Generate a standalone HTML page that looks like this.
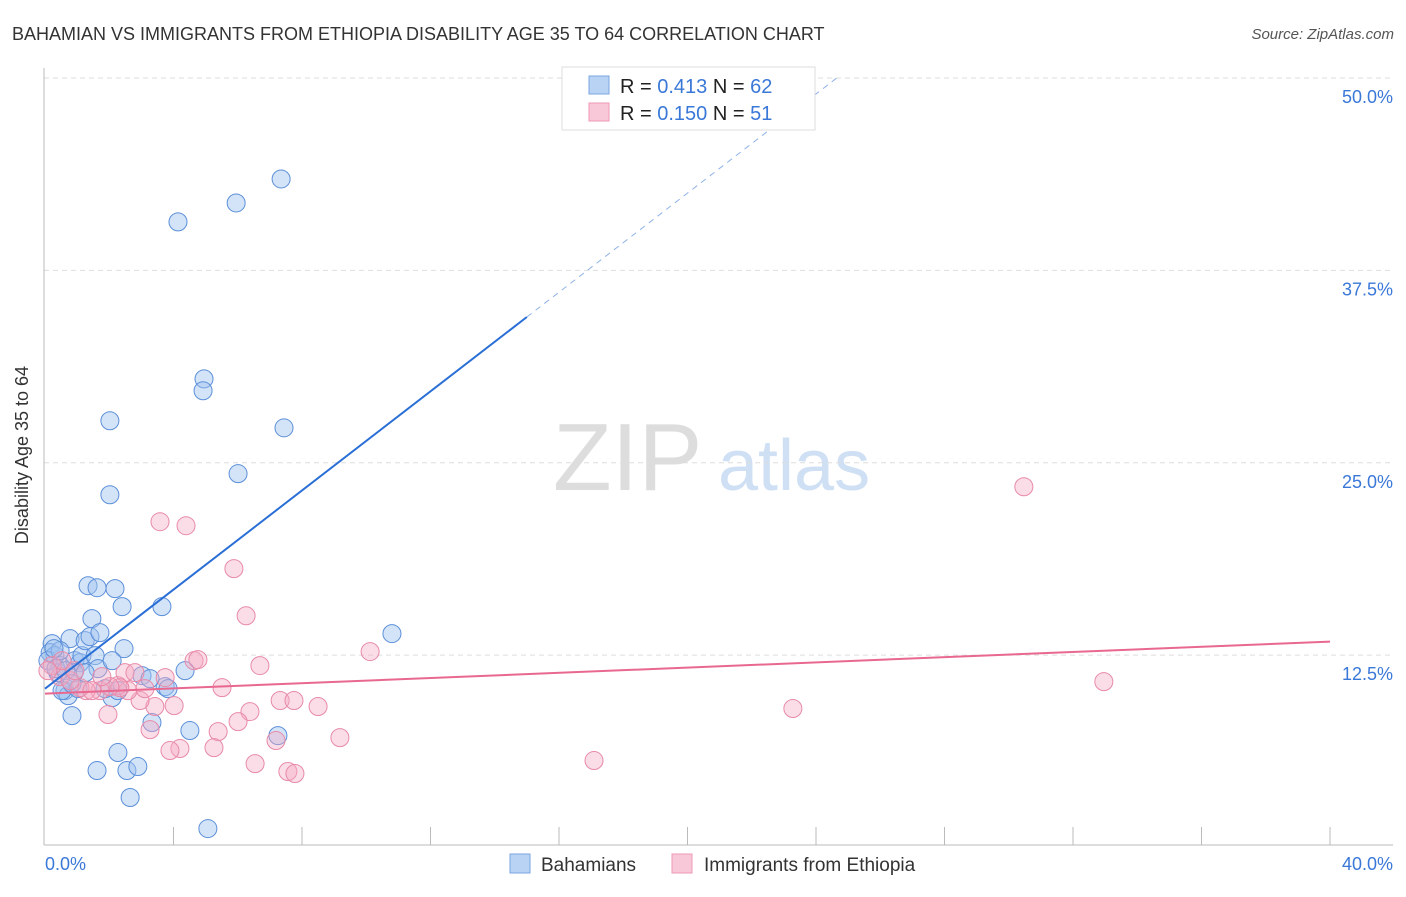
<!DOCTYPE html>
<html><head><meta charset="utf-8"><style>
body{margin:0;background:#fff;font-family:"Liberation Sans",sans-serif;}
svg text{font-family:"Liberation Sans",sans-serif;}
</style></head><body>
<svg id="chart" width="1406" height="892" xmlns="http://www.w3.org/2000/svg">
<text x="12" y="40" font-size="18" fill="#333">BAHAMIAN VS IMMIGRANTS FROM ETHIOPIA DISABILITY AGE 35 TO 64 CORRELATION CHART</text>
<text x="1394" y="39" font-size="15" fill="#555" font-style="italic" text-anchor="end">Source: ZipAtlas.com</text>
<g>
<text x="553" y="490" font-size="96" fill="#ddd" font-family="Liberation Serif,serif">ZIP</text>
<text x="718" y="490" font-size="72" fill="#cfe0f5">atlas</text>
</g>
<g id="grid"></g>
<line x1="44" y1="68" x2="44" y2="845" stroke="#bbb"/>
<line x1="44" y1="845" x2="1393" y2="845" stroke="#bbb"/>
<g id="xticks"></g>
<text x="28" y="455" font-size="18" fill="#333" text-anchor="middle" transform="rotate(-90 28 455)">Disability Age 35 to 64</text>
<text x="45" y="870" font-size="18" fill="#3a78d8">0.0%</text>
<text x="1393" y="870" font-size="18" fill="#3a78d8" text-anchor="end">40.0%</text>
<g id="pts"></g>
<g id="lines"></g>
<g>
<rect x="562" y="67" width="253" height="63" fill="#fff" stroke="#ddd"/>
<rect x="589" y="76" width="20" height="18" fill="#b9d3f5" stroke="#7aa6e0"/>
<rect x="589" y="103" width="20" height="18" fill="#f9c8d8" stroke="#ee9ab5"/>
<text x="620" y="93" font-size="20" fill="#222">R = <tspan fill="#3a78d8">0.413</tspan>   N = <tspan fill="#3a78d8">62</tspan></text>
<text x="620" y="120" font-size="20" fill="#222">R = <tspan fill="#3a78d8">0.150</tspan>   N = <tspan fill="#3a78d8"> 51</tspan></text>
</g>
<g>
<rect x="510" y="854" width="20" height="19" fill="#b9d3f5" stroke="#7aa6e0"/>
<text x="541" y="871" font-size="19" fill="#333">Bahamians</text>
<rect x="672" y="854" width="20" height="19" fill="#f9c8d8" stroke="#ee9ab5"/>
<text x="704" y="871" font-size="19" fill="#333">Immigrants from Ethiopia</text>
</g>
</svg>
<script>
const yTicks=[12.5,25,37.5,50];
const yTickLabels=["12.5%","25.0%","37.5%","50.0%"];
const xTicks=[4,8,12,16,20,24,28,32,36,40];
const blueX=[0.22,0.16,0.31,0.47,0.40,0.62,0.78,0.84,0.72,0.93,1.09,1.15,1.25,1.40,1.46,1.56,1.65,1.71,1.34,1.62,2.02,2.02,2.18,2.40,2.46,2.09,2.27,3.02,3.64,3.74,3.83,4.14,4.36,4.51,4.95,4.92,5.95,6.01,7.35,7.44,10.80,3.33,2.27,1.62,2.55,2.89,2.65,5.07,7.25,0.53,1.03,1.87,0.90,0.09,0.34,0.65,0.84,1.25,2.09,3.27,0.47,0.28];
const blueY=[13.25,12.66,12.47,11.82,11.36,10.19,13.57,8.57,9.87,12.14,12.01,12.47,13.44,13.70,14.87,12.47,11.62,13.96,17.01,16.88,27.73,22.92,16.82,15.65,12.92,9.74,10.19,11.17,15.65,10.45,10.32,40.65,11.49,7.60,30.45,29.68,41.88,24.29,43.44,27.27,13.90,8.12,6.17,5.00,5.00,5.26,3.25,1.23,7.27,10.19,10.32,10.32,11.36,12.14,11.62,11.49,10.65,11.36,12.14,10.97,12.79,12.92];
const pinkX=[30.47,32.96,23.28,17.09,3.58,4.39,5.88,6.26,10.12,6.69,4.64,4.76,5.51,7.32,7.75,8.50,9.18,6.38,6.01,5.39,5.26,4.20,3.89,3.27,3.42,4.02,2.96,2.58,2.27,1.96,1.71,1.28,1.09,2.49,2.80,3.74,2.33,7.19,6.54,7.56,7.78,0.47,0.22,0.78,1.46,2.02,3.11,0.53,0.09,1.77,0.93];
const pinkY=[23.44,10.78,9.03,5.65,21.17,20.91,18.12,15.06,12.73,11.82,12.14,12.21,10.39,9.55,9.55,9.16,7.14,8.83,8.18,7.53,6.49,6.43,6.30,7.66,9.16,9.22,9.55,10.19,10.52,8.64,10.19,10.19,10.39,11.36,11.36,11.04,10.39,6.95,5.45,4.94,4.81,11.10,11.82,10.84,10.19,10.45,10.32,12.14,11.49,11.10,11.49];
const blueTrend=[10.32,1.61];
const pinkTrend=[10.0,0.0845];
const NS="http://www.w3.org/2000/svg";
const X=v=>45+v/40*1285, Y=v=>847.5-v/50*769.5;
function mk(t,a,p){const e=document.createElementNS(NS,t);for(const k in a)e.setAttribute(k,a[k]);p.appendChild(e);return e;}
const grid=document.getElementById('grid');
yTicks.forEach((t,i)=>{
 const l=mk('line',{x1:44,x2:1393,y1:Y(t),y2:Y(t),stroke:'#ddd','stroke-dasharray':'5,4'},grid);
 
 
 const tx=mk('text',{x:1393,y:Y(t)+25,'font-size':18,fill:'#3a78d8','text-anchor':'end'},grid);
 tx.textContent=yTickLabels[i];
 
 
});
const xt=document.getElementById('xticks');
xTicks.forEach(t=>{
 const l=mk('line',{x1:X(t),x2:X(t),y1:827,y2:845,stroke:'#bbb'},xt);
 
 
});
const pts=document.getElementById('pts');
blueX.forEach((x,i)=>{
 const c=mk('circle',{cx:X(x),cy:Y(blueY[i]),r:9,fill:'rgba(160,196,240,0.45)',stroke:'#5b8fd9','stroke-width':1},pts);
 
 
});
pinkX.forEach((x,i)=>{
 const c=mk('circle',{cx:X(x),cy:Y(pinkY[i]),r:9,fill:'rgba(244,170,195,0.4)',stroke:'#e88aa8','stroke-width':1},pts);
 
 
});
const ln=document.getElementById('lines');
const b1=mk('line',{x1:X(0),y1:Y(blueTrend[0]),x2:X(15),y2:Y(blueTrend[0]+blueTrend[1]*15),stroke:'#2a6fd6','stroke-width':2},ln);


const xe=(50-blueTrend[0])/blueTrend[1];
const b2=mk('line',{x1:X(15),y1:Y(blueTrend[0]+blueTrend[1]*15),x2:X(xe),y2:Y(50),stroke:'#8fb3e6','stroke-width':1,'stroke-dasharray':'6,5'},ln);


const p1=mk('line',{x1:X(0),y1:Y(pinkTrend[0]),x2:X(40),y2:Y(pinkTrend[0]+pinkTrend[1]*40),stroke:'#e8688f','stroke-width':2},ln);


</script>
</body></html>
